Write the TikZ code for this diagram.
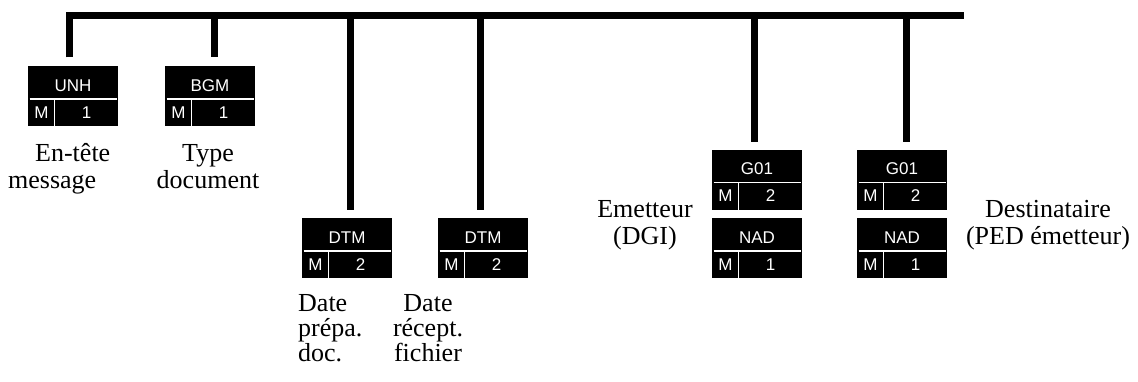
\documentclass[tikz,border=0pt]{standalone}
\usepackage{fontspec}
\setmainfont{Liberation Serif}
\setsansfont{Liberation Sans}
\tikzset{
  bus/.style={line width=7pt, line join=miter},
  segbox/.style={rectangle, fill=black, minimum width=90pt, minimum height=60pt, inner sep=0pt},
  boxtxt/.style={text=white, font=\sffamily\fontsize{17}{17}\selectfont, inner sep=0pt, anchor=base},
  sepline/.style={white, line width=1.5pt},
  lbl/.style={font=\fontsize{26}{27}\selectfont, inner sep=0pt, anchor=base},
  lbltight/.style={font=\fontsize{26}{25}\selectfont, inner sep=0pt, anchor=base},
}
\newcommand\segment[6]{%
  \node[segbox] (#1) at (#2+45,#3+30) {};
  \draw[sepline] (#2+1.5,#3+33) -- (#2+88.5,#3+33);
  \draw[sepline] (#2+26.5,#3+33) -- (#2+26.5,#3+60);
  \node[boxtxt] (#1-tag) at (#2+45,#3+25) {#4};
  \node[boxtxt] (#1-st) at (#2+13.5,#3+52) {#5};
  \node[boxtxt] (#1-rep) at (#2+58.5,#3+52) {#6};
}
\begin{document}
\begin{tikzpicture}[x=1pt,y=-1pt]
\useasboundingbox (0,0) rectangle (1138,381);
% segment boxes
\segment{unh}{28}{66}{UNH}{M}{1}
\segment{bgm}{165}{66}{BGM}{M}{1}
\segment{dtma}{302}{218}{DTM}{M}{2}
\segment{dtmb}{438}{218}{DTM}{M}{2}
\segment{gxa}{712}{149.5}{G01}{M}{2}
\segment{nada}{712}{218}{NAD}{M}{1}
\segment{gxb}{857}{149.5}{G01}{M}{2}
\segment{nadb}{857}{218}{NAD}{M}{1}
% bus junctions
\coordinate (j1) at (69.5,15);
\coordinate (j2) at (214,15);
\coordinate (j3) at (350.5,15);
\coordinate (j4) at (480,15);
\coordinate (j5) at (754,15);
\coordinate (j6) at (906,15);
\coordinate (jend) at (964,15);
% connectors
\draw[bus, shorten <=8.5pt] (j1 |- unh.north) -- (j1) -- (jend);
\draw[bus, shorten >=8.5pt] (j2) -- (j2 |- bgm.north);
\draw[bus, shorten >=8pt] (j3) -- (j3 |- dtma.north);
\draw[bus, shorten >=8pt] (j4) -- (j4 |- dtmb.north);
\draw[bus, shorten >=7.5pt] (j5) -- (j5 |- gxa.north);
\draw[bus, shorten >=7.5pt] (j6) -- (j6 |- gxb.north);
% labels (base anchor = baseline of last line)
\node[lbl, align=left, anchor=base west] (l-unh) at (8,188) {\hspace*{27pt}En-tête\\message};
\node[lbl, align=center] (l-bgm) at (208,188) {Type\\document};
\node[lbltight, align=left, anchor=base west] (l-dtma) at (298,361) {Date\\prépa.\\doc.};
\node[lbltight, align=center] (l-dtmb) at (428,361) {Date\\récept.\\fichier};
\node[lbl, align=center] (l-em) at (645,244) {Emetteur\\(DGI)};
\node[lbl, align=center] (l-dest) at (1048,244) {Destinataire\\(PED émetteur)};
\end{tikzpicture}
\end{document}
